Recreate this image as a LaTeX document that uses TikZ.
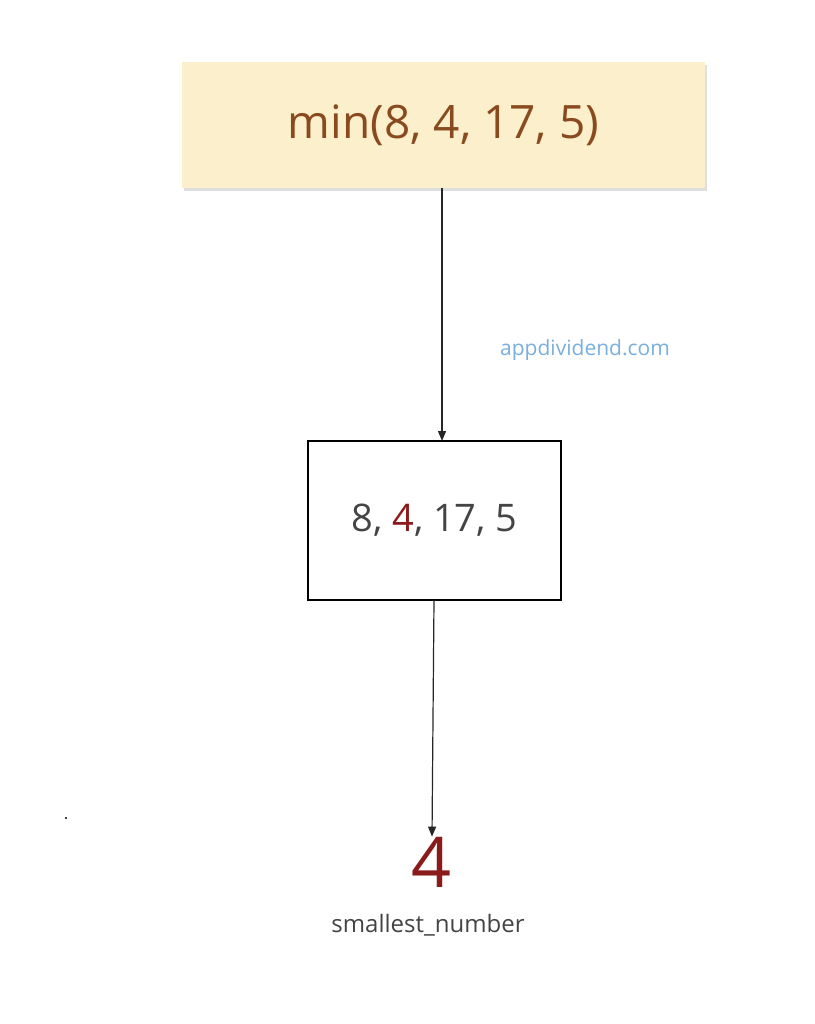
\documentclass[tikz,border=0pt]{standalone}
\usepackage{fontspec}
\setmainfont{Open Sans}
\usetikzlibrary{arrows.meta,shadows}
\definecolor{boxy}{HTML}{FBF0CB}
\definecolor{brownt}{HTML}{8A4A1F}
\definecolor{redt}{HTML}{8B1A1A}
\definecolor{grayt}{HTML}{444444}
\definecolor{bluet}{HTML}{7AAEDD}
\tikzset{conn/.style={-{Triangle[length=10pt,width=8pt]},line width=1.2pt,black!85}}
\begin{document}
\begin{tikzpicture}[x=1pt,y=-1pt]
\useasboundingbox (0,0) rectangle (814,1024);
\node[fill=boxy,minimum width=523pt,minimum height=126pt,inner sep=0,drop shadow={opacity=0.25,shadow xshift=2pt,shadow yshift=-3pt},text=brownt,font=\fontsize{46}{50}\selectfont] (top) at (443.5,125) {min(8, 4, 17, 5)};
\node[draw,line width=1.2pt,minimum width=253pt,minimum height=159pt,inner sep=0,text=grayt,font=\fontsize{38}{42}\selectfont] (mid) at (434.5,520.5) {8, \textcolor{redt}{4}, 17, 5};
\node[text=redt,font=\fontsize{70}{74}\selectfont,inner sep=0] (res) at (432,862) {4};
\node[text=grayt,font=\fontsize{24}{28}\selectfont] (lbl) at (428,925) {smallest\_number};
\node[text=bluet,font=\fontsize{21}{24}\selectfont] (wm) at (585,350) {appdividend.com};
\coordinate (a1) at (442,188);
\draw[conn] (a1) -- (442,441);
\draw[conn] (434,600) -- (res.north);
\fill (66,818) circle (1.2pt);
\end{tikzpicture}
\end{document}
